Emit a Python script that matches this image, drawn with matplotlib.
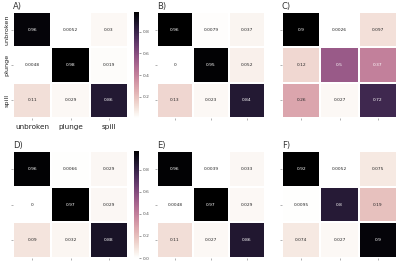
import matplotlib
matplotlib.use("Agg")
import matplotlib.pyplot as plt
import seaborn as sns
import numpy as np

labels = ["unbroken", "plunge", "spill"]
panel_names = ["A)", "B)", "C)", "D)", "E)", "F)"]

mat_A = [[0.96, 0.0052, 0.03], [0.0048, 0.98, 0.019], [0.11, 0.029, 0.86]]
mat_B = [[0.96, 0.0079, 0.037], [0.0, 0.95, 0.052], [0.13, 0.023, 0.84]]
mat_C = [[0.9, 0.0026, 0.097], [0.12, 0.5, 0.37], [0.26, 0.027, 0.72]]
mat_D = [[0.96, 0.0066, 0.029], [0.0, 0.97, 0.029], [0.09, 0.032, 0.88]]
mat_E = [[0.96, 0.0039, 0.033], [0.0048, 0.97, 0.029], [0.11, 0.027, 0.86]]
mat_F = [[0.92, 0.0052, 0.075], [0.0095, 0.8, 0.19], [0.074, 0.027, 0.9]]
mats = [mat_A, mat_B, mat_C, mat_D, mat_E, mat_F]

W, H = 397, 261
fig = plt.figure(figsize=(W / 100, H / 100), dpi=100)
fig.patch.set_facecolor("white")

def rect(x0, y0, x1, y1):
    return [x0 / W, 1 - y1 / H, (x1 - x0) / W, (y1 - y0) / H]

cols = [(13, 128), (157, 265), (282, 397)]
rows = [(12, 118), (151, 258)]
cmap = sns.cubehelix_palette(as_cmap=True, light=1.0, dark=0.0)

for i, m in enumerate(mats):
    r, c = divmod(i, 3)
    x0, x1 = cols[c]
    y0, y1 = rows[r]
    ax = fig.add_axes(rect(x0, y0, x1, y1))
    arr = np.array(m)
    if c == 0:
        cax = fig.add_axes(rect(134, y0, 139, y1))
        sns.heatmap(arr, ax=ax, cbar_ax=cax, cmap=cmap, annot=True, fmt=".2g",
                    annot_kws={"fontsize": 3.2}, linewidths=0.3, linecolor="white")
        cax.tick_params(labelsize=3.2, length=1.5, width=0.4, pad=1, colors="#555555")
        for s in cax.spines.values():
            s.set_visible(False)
    else:
        sns.heatmap(arr, ax=ax, cbar=False, cmap=cmap, annot=True, fmt=".2g",
                    annot_kws={"fontsize": 3.2}, linewidths=0.3, linecolor="white")
    ax.set_title(panel_names[i], loc="left", fontsize=6, pad=2, color="#333333")
    ax.tick_params(length=1.5, width=0.4, pad=1, colors="#777777")
    if i == 0:
        ax.set_xticklabels(labels, fontsize=5.2, color="#222222")
        ax.set_yticklabels(labels, fontsize=4.6, rotation=90, va="center", color="#222222")
        ax.tick_params(axis="x", pad=3)
    else:
        ax.set_xticklabels([])
        ax.set_yticklabels([])

fig.savefig("out.png", dpi=100, facecolor="white")
